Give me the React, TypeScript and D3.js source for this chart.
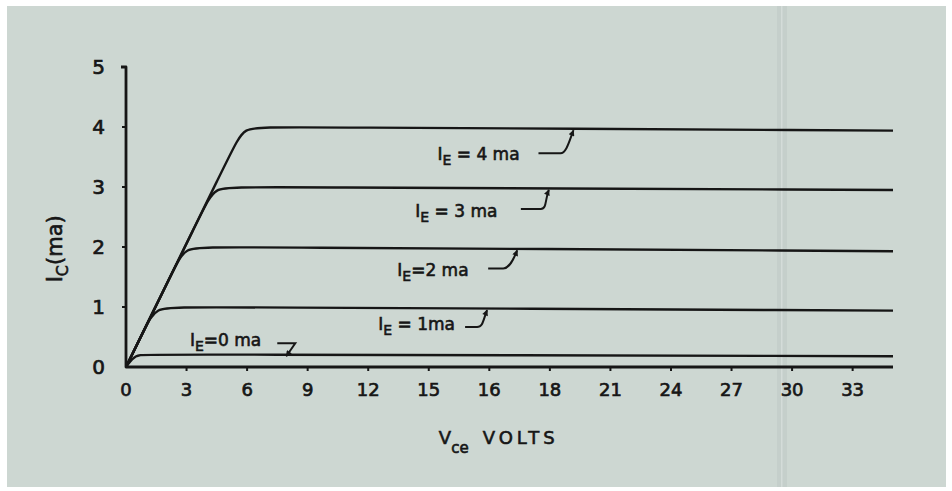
import React from "react";
import * as d3 from "d3";

// collector characteristics, common-base: [Vce volts, Ic ma]
const curveIE0 = [[0, 0], [0.3, 0.14], [0.6, 0.21], [1.6, 0.21], [38, 0.18]];
const curveIE1 = [[0, 0], [0.95, 0.65], [1.46, 1.0], [2.85, 1.0], [38, 0.94]];
const curveIE2 = [[0, 0], [2.4, 1.65], [2.91, 2.0], [4.3, 2.0], [38, 1.93]];
const curveIE3 = [[0, 0], [3.85, 2.64], [4.37, 3.0], [5.75, 3.0], [38, 2.95]];
const curveIE4 = [[0, 0], [5.3, 3.64], [5.82, 4.0], [7.2, 4.0], [38, 3.94]];

const emitterCurrents = [0, 1, 2, 3, 4];
const curves = [curveIE0, curveIE1, curveIE2, curveIE3, curveIE4];

// the printed axis really reads "16" between 15 and 18
const voltTicks = [0, 3, 6, 9, 12, 15, 18, 21, 24, 27, 30, 33, 36];
const voltLabels = ["0", "3", "6", "9", "12", "15", "16", "18", "21", "24", "27", "30", "33"];
const maTicks = [0, 1, 2, 3, 4, 5];

// where each "I_E = n ma" note sits, in chart units
const noteTextV = [3.17, 12.5, 13.44, 14.33, 15.43];
const noteTextI = [0.35, 0.62, 1.52, 2.5, 3.45];
const noteTipV = [7.94, 17.89, 19.38, 20.95, 22.17];

let width = 952;
let height = 491;
let margin = { top: 67, left: 126, right: 59, bottom: 124 };

const ink = "#161616";
const font = "'DejaVu Sans', sans-serif";

// little leader geometry: [x0, x1, dy] relative to the arrow tip
const hooks = [null, [-22, -10, 17], [-29, -14, 18], [-28, -8, 19], [-35, -13, 23]];

export default function App() {
  const x = d3
    .scaleLinear()
    .domain([0, 38])
    .range([margin.left, width - margin.right]);

  const y = d3
    .scaleLinear()
    .domain([0, 5])
    .range([height - margin.bottom, margin.top]);

  const line = d3
    .line<number[]>()
    .x(d => x(d[0]))
    .y(d => y(d[1]))
    .curve(d3.curveBasis);

  const y0 = y(0);

  // Ic on the flat part of a curve at volts v
  const plateauAt = (pts: number[][], v: number) => {
    const a = pts[3], b = pts[4];
    return d3.scaleLinear().domain([a[0], b[0]]).range([a[1], b[1]])(v);
  };

  return (
    <div>
      <svg
        width={width}
        height={height}
        style={{ position: "absolute", left: 0, top: 0, background: "#ffffff" }}
      >
        <defs>
          <marker
            id="tip"
            viewBox="0 0 10 10"
            refX="9"
            refY="5"
            markerWidth="9"
            markerHeight="6"
            markerUnits="userSpaceOnUse"
            orient="auto"
          >
            <path d="M0,0 L10,5 L0,10 z" fill={ink} />
          </marker>
        </defs>

        <rect x={7} y={6} width={939} height={481} fill="#cdd7d2" />
        <rect x={777} y={6} width={10} height={481} fill="#c5cfcb" />
        <rect x={781} y={6} width={1.5} height={481} fill="#d4dcd9" />

        {/* curves */}
        {curves.map((c, i) => (
          <path
            key={"c" + i}
            d={line(c) || ""}
            fill="none"
            stroke={ink}
            strokeWidth={2.4}
            strokeLinejoin="round"
          />
        ))}

        {/* axes */}
        <path
          d={`M${x(0) - 5},${y(5)} H${x(0)} V${y0} H${x(38)}`}
          fill="none"
          stroke={ink}
          strokeWidth={2.8}
          strokeLinejoin="round"
        />
        {voltTicks.slice(1).map(t => (
          <line key={"xt" + t} x1={x(t)} x2={x(t)} y1={y0} y2={y0 + 4} stroke={ink} strokeWidth={2} />
        ))}
        {maTicks.slice(1, 5).map(t => (
          <line key={"yt" + t} x1={x(0) - 4} x2={x(0)} y1={y(t)} y2={y(t)} stroke={ink} strokeWidth={2} />
        ))}

        {voltTicks.map((t, i) => (
          <text
            key={"xl" + t}
            x={x(t)}
            y={y0 + 29}
            textAnchor="middle"
            fontFamily={font}
            fontSize={18}
            fill={ink}
            stroke={ink}
            strokeWidth={0.7}
          >
            {voltLabels[i]}
          </text>
        ))}
        {maTicks.map(t => (
          <text
            key={"yl" + t}
            x={x(0) - 21}
            y={y(t)}
            dy="0.36em"
            textAnchor="end"
            fontFamily={font}
            fontSize={20}
            fill={ink}
            stroke={ink}
            strokeWidth={0.7}
          >
            {t}
          </text>
        ))}

        {/* axis titles */}
        <text
          x={x(15.5)}
          y={y0 + 77}
          fontFamily={font}
          fontSize={18}
          fill={ink}
          stroke={ink}
          strokeWidth={0.6}
        >
          V
          <tspan dy={9} fontSize={15}>ce</tspan>
          <tspan dy={-9} dx={14} letterSpacing={4}>VOLTS</tspan>
        </text>
        <text
          transform={`translate(62, ${y(1.97)}) rotate(-90)`}
          textAnchor="middle"
          fontFamily={font}
          fontSize={21}
          fill={ink}
          stroke={ink}
          strokeWidth={0.6}
        >
          I
          <tspan dy={6} fontSize={16}>C</tspan>
          <tspan dy={-6}>(ma)</tspan>
        </text>

        {/* notes */}
        {emitterCurrents.map((ie, i) => {
          const tx = x(noteTipV[i]);
          const ty = y(plateauAt(curves[i], noteTipV[i])) + 1.5;
          const h = hooks[i];
          const d = h
            ? `M${tx + h[0]},${ty + h[2]} H${tx + h[1]} C${tx + h[1] + 6},${ty + h[2]} ${tx - 4},${ty + 10} ${tx},${ty}`
            : `M${tx - 9},${ty - 13} H${tx + 9} L${tx},${ty}`;
          return (
            <g key={"n" + ie}>
              <path
                d={d}
                fill="none"
                stroke={ink}
                strokeWidth={2}
                markerEnd="url(#tip)"
              />
              <text
                x={x(noteTextV[i])}
                y={y(noteTextI[i])}
                fontFamily={font}
                fontSize={17}
                fill={ink}
                stroke={ink}
                strokeWidth={0.6}
              >
                I
                <tspan dy={5} fontSize={14}>E</tspan>
                <tspan dy={-5}>{ie === 0 || ie === 2 ? "=" : " = "}</tspan>
                <tspan>{ie === 0 ? `${ie} ma` : ie === 1 ? `${ie}ma` : `${ie} ma`}</tspan>
              </text>
            </g>
          );
        })}
      </svg>
    </div>
  );
}
